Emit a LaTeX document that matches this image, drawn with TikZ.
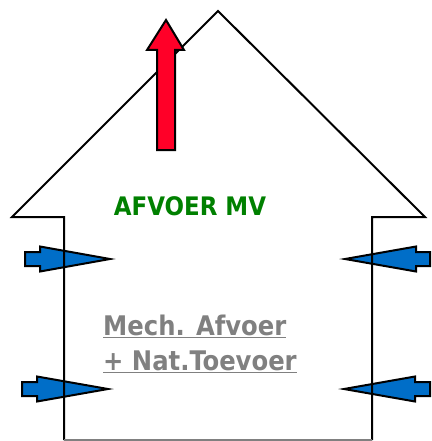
\documentclass[tikz,border=0pt]{standalone}
\usepackage{fontspec}
\setmainfont{DejaVu Sans Condensed}
\usepackage{tikz}
\usetikzlibrary{positioning}
\usepackage{xcolor}
\definecolor{exhaustred}{RGB}{255,0,40}
\definecolor{supplyblue}{RGB}{0,110,200}
\definecolor{labelgreen}{RGB}{0,128,0}
\definecolor{labelgray}{RGB}{128,128,128}

\begin{document}
\begin{tikzpicture}[x=1pt,y=-1pt,
  wall/.style={line width=2pt,line join=miter},
  flow/.style={draw=black,line width=2pt,line join=miter},
  caption/.style={font=\fontsize{27}{30}\selectfont\bfseries,inner sep=0pt}]
\useasboundingbox (0,0) rectangle (431,441);
% inlet arrows in the walls
\foreach \tx/\bx/\px/\yc in {25/40/110/259, 22/37/108/389, 430/416/345/259, 430/415/344/389}
  \filldraw[flow,fill=supplyblue] (\tx,\yc-7) -- (\bx,\yc-7) -- (\bx,\yc-12.5) -- (\px,\yc)
    -- (\bx,\yc+12.5) -- (\bx,\yc+7) -- (\tx,\yc+7) -- cycle;
% house outline
\draw[wall] (64,440) -- (64,217) -- (12,217) -- (218,11) -- (425,217) -- (372,217) -- (372,440);
\draw[labelgray,line width=1.5pt] (64,440) -- (372,440);
% exhaust arrow through the roof
\filldraw[flow,fill=exhaustred] (157,150) -- (157,50) -- (147,50) -- (166,20) -- (184,50)
  -- (175,50) -- (175,150) -- cycle;
\node[caption,text=labelgreen,font=\fontsize{25.5}{30}\selectfont\bfseries] (afvoer) at (190,206) {AFVOER MV};
\node[caption,text=labelgray,anchor=base west] (mech) at (103,335) {\underline{Mech. Afvoer}};
\node[caption,text=labelgray,anchor=base west] (nat) at (103,370) {\underline{+ Nat.Toevoer}};
\end{tikzpicture}
\end{document}
